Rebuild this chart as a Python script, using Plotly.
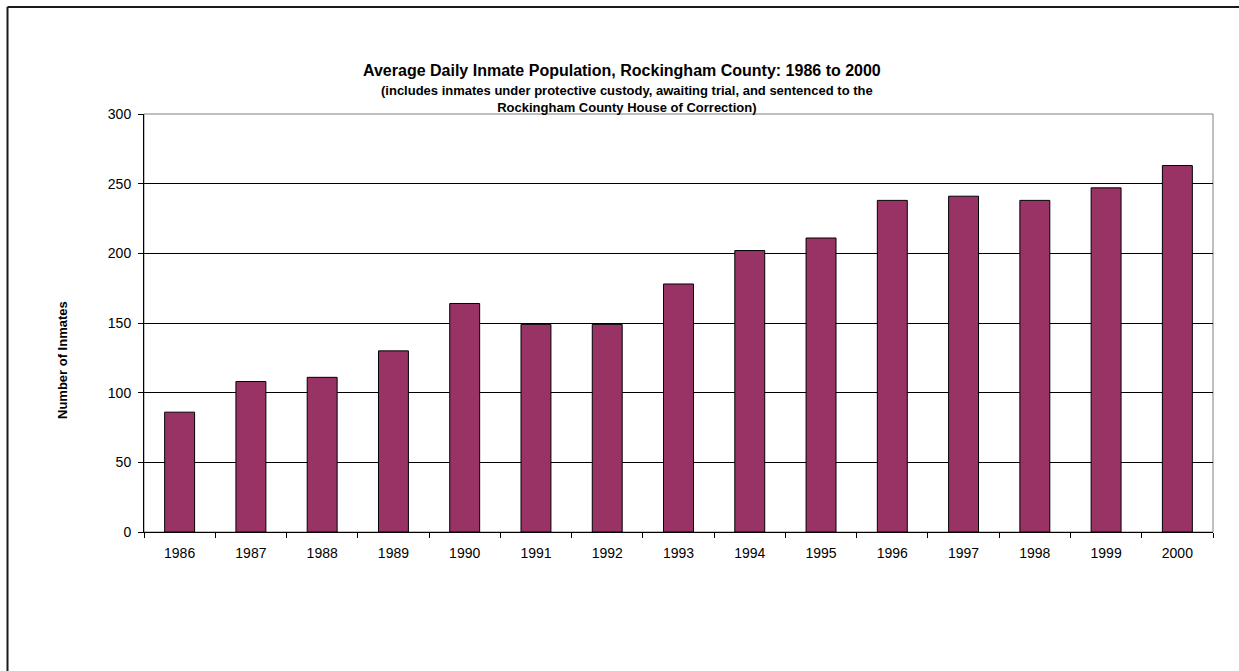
import plotly.graph_objects as go

years = ["1986", "1987", "1988", "1989", "1990", "1991", "1992", "1993",
         "1994", "1995", "1996", "1997", "1998", "1999", "2000"]
inmates = [86, 108, 111, 130, 164, 149, 149, 178, 202, 211, 238, 241, 238, 247, 263]

title_main = "Average Daily Inmate Population, Rockingham County: 1986 to 2000"
title_sub = ("(includes inmates under protective custody, awaiting trial, and sentenced to the"
             "<br>Rockingham County House of Correction)")

W, H = 1239, 671
L, R, T, B = 144, 26, 114, 139
plot_w = W - L - R
plot_h = H - T - B


def px_x(x):
    return (x - L) / plot_w


def px_y(y):
    return (H - B - y) / plot_h


fig = go.Figure()

fig.add_trace(
    go.Bar(
        x=years,
        y=inmates,
        marker={"color": "#993366", "line": {"color": "#000000", "width": 1}},
        showlegend=False,
    )
)

fig.update_layout(
    width=W,
    height=H,
    margin={"l": L, "r": R, "t": T, "b": B},
    paper_bgcolor="white",
    plot_bgcolor="white",
    font={"family": "Arial, 'Liberation Sans', sans-serif", "color": "#000000", "size": 12},
    bargap=0.58,
    shapes=[
        # plot area border
        {"type": "rect", "xref": "paper", "yref": "paper", "x0": 0, "x1": 1, "y0": 0, "y1": 1,
         "line": {"color": "#808080", "width": 1}, "layer": "below"},
        # outer chart frame (cropped)
        {"type": "line", "xref": "paper", "yref": "paper",
         "x0": px_x(7.5), "x1": px_x(7.5), "y0": px_y(H + 5), "y1": px_y(7),
         "line": {"color": "#1a1a1a", "width": 2}},
        {"type": "line", "xref": "paper", "yref": "paper",
         "x0": px_x(7.5), "x1": px_x(W + 5), "y0": px_y(7), "y1": px_y(7),
         "line": {"color": "#1a1a1a", "width": 2}},
    ],
    annotations=[
        {"text": "<b>" + title_main + "</b>", "xref": "paper", "yref": "paper",
         "x": px_x(622), "y": px_y(71), "showarrow": False,
         "font": {"size": 16}, "xanchor": "center", "yanchor": "middle"},
        {"text": "<b>" + title_sub + "</b>", "xref": "paper", "yref": "paper",
         "x": px_x(627), "y": px_y(99), "showarrow": False,
         "font": {"size": 13}, "xanchor": "center", "yanchor": "middle",
         "align": "center"},
        {"text": "<b>Number of Inmates</b>", "xref": "paper", "yref": "paper",
         "x": px_x(62), "y": px_y(360), "showarrow": False, "textangle": -90,
         "font": {"size": 13}, "xanchor": "center", "yanchor": "middle"},
    ],
)

fig.update_yaxes(
    range=[0, 300],
    dtick=50,
    showgrid=True,
    gridcolor="#000000",
    gridwidth=1,
    zeroline=False,
    showline=True,
    linecolor="#000000",
    linewidth=1,
    ticks="outside",
    ticklen=5,
    tickcolor="#000000",
    tickfont={"size": 14},
    ticklabelstandoff=4,
    fixedrange=True,
)

fig.update_xaxes(
    type="category",
    showline=True,
    linecolor="#000000",
    linewidth=1,
    ticks="outside",
    tickson="boundaries",
    ticklen=5,
    tickcolor="#000000",
    tickfont={"size": 14},
    ticklabelstandoff=8,
    showgrid=False,
    fixedrange=True,
)

# the page body has a default 8px margin; drop it so the figure sits at the window origin
fig.write_html(
    "out.html",
    config={"displayModeBar": False},
    post_script="document.body.style.margin='0';",
)
